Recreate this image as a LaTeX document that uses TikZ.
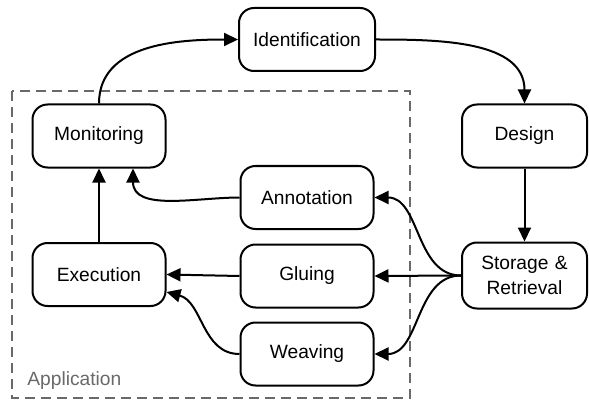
\documentclass[tikz,border=0pt]{standalone}
\usepackage{fontspec}
\setmainfont{Liberation Sans}
\usepackage{xcolor}
\usepackage{tikz}
\usetikzlibrary{shapes,arrows.meta}
\definecolor{framegray}{RGB}{105,105,105}
\tikzstyle{block} = [rectangle, draw, line width=1pt, text width=62.5pt, text centered,
    rounded corners=7.5pt, minimum height=31.5pt, inner sep=2pt,
    font=\fontsize{9.6}{12.5}\selectfont]
\tikzstyle{wideblock} = [block, text width=64pt]
\tikzstyle{sideblock} = [block, text width=58.5pt]
\tikzstyle{arrow} = [draw, -{Triangle[length=7pt,width=6.5pt]}, line width=1pt]
\tikzstyle{appframe} = [draw=framegray, dash pattern=on 5pt off 3pt, line width=0.8pt]

\begin{document}
\begin{tikzpicture}[node distance=39pt, auto, x=0.5pt, y=-0.5pt]
			\useasboundingbox (0,0) rectangle (589,401);
			% application frame
			\draw [appframe] (12,91) rectangle (410,398);
			\node [anchor=base west, inner sep=0pt, text=framegray, font=\fontsize{9.6}{12.5}\selectfont] (applabel) at (27,385) {Application};
			%
			\node [block] (monitoring) at (99,136) {Monitoring};
			\node [block, below of=monitoring, node distance=69.25pt] (execution) {Execution};
			\node [block, right of=execution, node distance=104pt, yshift=-0.75pt] (gluing) {Gluing};
			\node [block, above of=gluing, node distance=39.25pt] (annotation) {Annotation};
			\node [block, below of=gluing] (weaving) {Weaving};

			\node [wideblock] (identification) at (307,39.5) {Identification};
			\node [sideblock] (design) at (524.5,136) {Design};
			\node [sideblock, minimum height=33pt, below of=design, node distance=69.75pt] (storage) {Storage \&\\Retrieval};

			% Draw edges
			\path [arrow] (monitoring.north) to[out=90, in=180] (identification.west);
			\path [arrow] (identification.east) to[out=0, in=90] (design.north);
			\path [arrow] (design) -- (storage);

			\path [arrow] (storage.west) to[out=180, in=0] (annotation.east);
			\path [arrow] (storage.west) -- (gluing.east);
			\path [arrow] (storage.west) to[out=180, in=0] (weaving.east);

			\path [arrow] (annotation.west) to[out=180, in=-90] ([xshift=17pt]monitoring.south);
			\path [arrow] (gluing.west) -- (execution.east);
			\path [arrow] (weaving.west) to[out=180, in=-15] ([yshift=-8.75pt]execution.east);
			\path [arrow] (execution) -- (monitoring);
%
	\end{tikzpicture}
\end{document}
